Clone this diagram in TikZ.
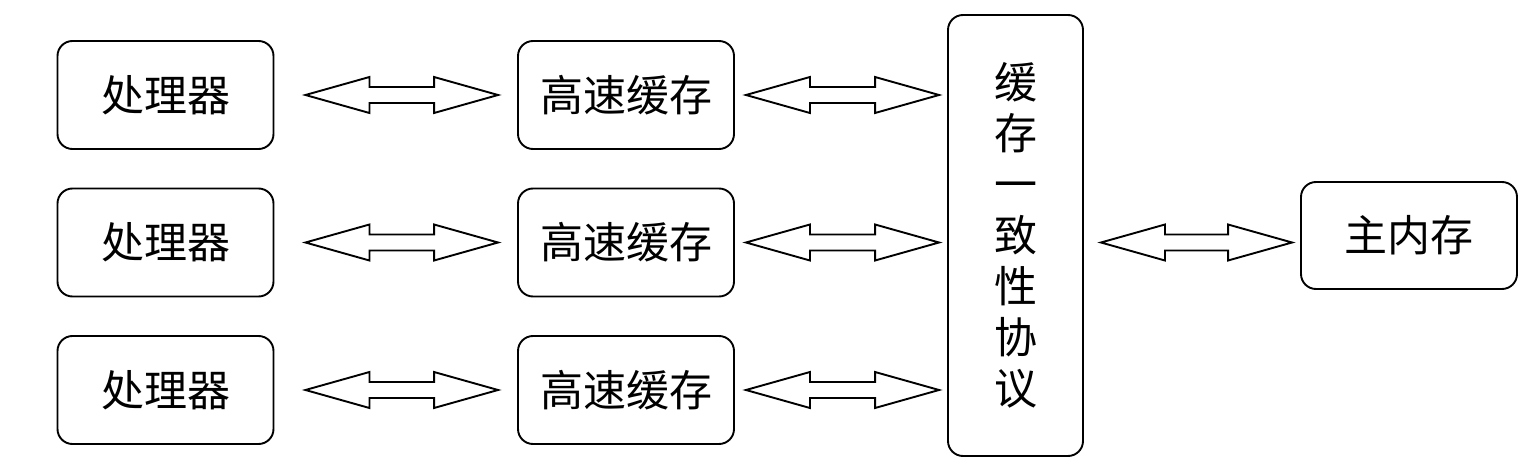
\documentclass[tikz,border=0pt]{standalone}
\usepackage{fontspec}
\newfontfamily\cjk{Noto Sans CJK SC}
\usetikzlibrary{calc}
\tikzset{
  box/.style={draw=black, line width=1.9pt, rounded corners=15pt, fill=white,
    minimum width=216pt, minimum height=108pt, inner sep=0pt,
    font=\cjk\fontsize{43}{51}\selectfont},
  blk/.style={draw=black, line width=1.9pt, fill=white, line join=miter},
}
\newcommand\barrow[2]{%
  \path (#1) coordinate (as) (#2) coordinate (ae);
  \draw[blk] let \p1=(as), \p2=(ae) in
    (\x1,\y1) -- ({\x1+64pt},{\y1+18pt}) -- ({\x1+64pt},{\y1+8pt})
    -- ({\x2-64pt},{\y1+8pt}) -- ({\x2-64pt},{\y1+18pt}) -- (\x2,\y1)
    -- ({\x2-64pt},{\y1-18pt}) -- ({\x2-64pt},{\y1-8pt})
    -- ({\x1+64pt},{\y1-8pt}) -- ({\x1+64pt},{\y1-18pt}) -- cycle;}
\begin{document}
\begin{tikzpicture}[x=1pt,y=-1pt]
\useasboundingbox (0,0) rectangle (1540,468);
\node[box] (p1) at (165.5,95) {处理器};
\node[box] (p2) at (165.5,242.5) {处理器};
\node[box] (p3) at (165.5,390) {处理器};
\node[box] (c1) at (626,95) {高速缓存};
\node[box] (c2) at (626,242.5) {高速缓存};
\node[box] (c3) at (626,390) {高速缓存};
\node[box, minimum width=135pt, minimum height=441pt, align=center] (coh) at (1015.5,235.5)
  {缓\\存\\一\\致\\性\\协\\议};
\node[box, minimum height=107pt] (m) at (1409,235.5) {主内存};
\barrow{$(p1.east)+(31,0)$}{$(c1.west)+(-19,0)$}
\barrow{$(p2.east)+(31,0)$}{$(c2.west)+(-19,0)$}
\barrow{$(p3.east)+(31,0)$}{$(c3.west)+(-19,0)$}
\barrow{$(c1.east)+(11,0)$}{$(coh.west|-c1.center)+(-8,0)$}
\barrow{$(c2.east)+(11,0)$}{$(coh.west|-c2.center)+(-8,0)$}
\barrow{$(c3.east)+(11,0)$}{$(coh.west|-c3.center)+(-8,0)$}
\barrow{$(coh.east|-m.center)+(17,7)$}{$(m.west)+(-8,7)$}
\end{tikzpicture}
\end{document}
